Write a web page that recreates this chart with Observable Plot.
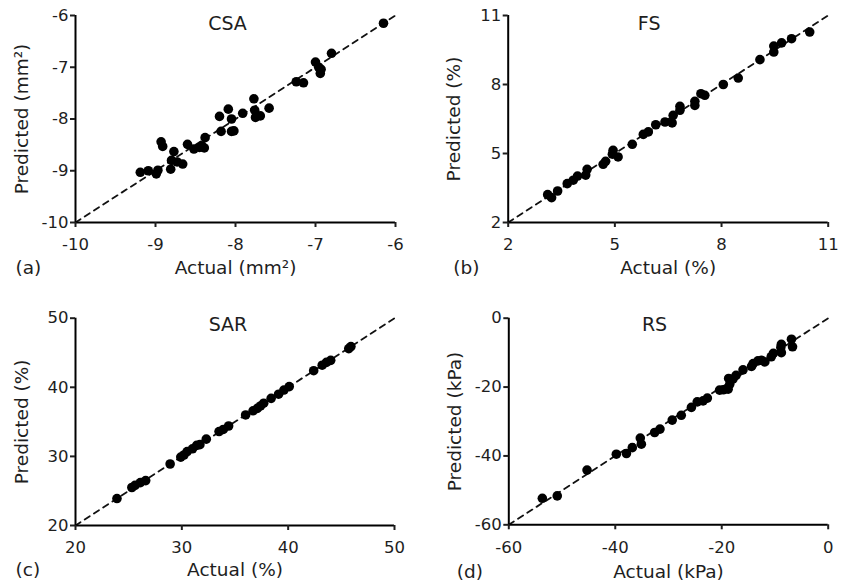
<!DOCTYPE html>
<html>
<head>
<meta charset="utf-8">
<script src="https://cdn.jsdelivr.net/npm/d3@7"></script>
<script src="https://cdn.jsdelivr.net/npm/@observablehq/plot@0.6"></script>
<style>
  html, body { margin: 0; padding: 0; background: #fff; }
  #chart { position: relative; width: 842px; height: 584px; overflow: hidden; }
  .panel { position: absolute; }
</style>
</head>
<body>
<div id="chart"></div>
<script>
// ---- Data ----
const csaActual = [-9.19,-9.09,-8.99,-8.97,-8.93,-8.91,-8.81,-8.80,-8.77,-8.73,-8.66,-8.60,-8.52,-8.45,-8.42,-8.39,-8.38,-8.20,-8.18,-8.09,-8.05,-8.05,-8.02,-7.91,-7.77,-7.76,-7.75,-7.69,-7.58,-7.24,-7.15,-7.00,-6.96,-6.93,-6.94,-6.80,-6.15];
const csaPredicted = [-9.03,-9.00,-9.06,-8.99,-8.44,-8.53,-8.97,-8.80,-8.63,-8.83,-8.87,-8.49,-8.58,-8.55,-8.52,-8.56,-8.36,-7.95,-8.24,-7.81,-8.00,-8.24,-8.23,-7.89,-7.61,-7.83,-7.97,-7.94,-7.79,-7.28,-7.30,-6.90,-7.00,-7.04,-7.12,-6.73,-6.15];

const fsActual = [3.11,3.22,3.39,3.66,3.83,3.95,4.18,4.22,4.67,4.74,4.93,4.95,5.09,5.49,5.80,5.94,6.15,6.41,6.61,6.64,6.83,6.83,7.25,7.25,7.42,7.53,8.05,8.47,9.08,9.47,9.47,9.69,9.97,10.48];
const fsPredicted = [3.21,3.08,3.37,3.69,3.84,4.02,4.06,4.31,4.53,4.66,4.97,5.14,4.85,5.40,5.83,5.94,6.25,6.37,6.33,6.66,6.88,7.05,7.09,7.27,7.60,7.53,8.00,8.28,9.08,9.41,9.67,9.81,9.99,10.28];

const sarActual = [23.9,25.3,25.6,26.1,26.6,28.9,29.9,30.2,30.5,31.0,31.4,31.7,32.3,33.5,33.9,34.4,36.0,36.7,37.1,37.4,37.7,38.4,39.1,39.6,40.1,42.4,43.2,43.6,44.0,45.7,45.9];
const sarPredicted = [23.9,25.5,25.8,26.2,26.5,28.9,29.9,30.2,30.7,31.1,31.6,31.7,32.5,33.6,33.9,34.4,36.0,36.6,36.95,37.3,37.7,38.4,39.0,39.6,40.1,42.4,43.2,43.6,43.9,45.6,45.9];

const rsActual = [-53.7,-50.9,-45.3,-39.8,-37.9,-36.8,-35.3,-35.1,-32.6,-31.6,-29.3,-27.6,-25.7,-24.6,-23.5,-22.7,-20.4,-19.7,-18.8,-18.5,-18.7,-17.9,-17.3,-16.0,-14.4,-14.1,-13.2,-12.5,-11.9,-10.7,-10.3,-8.9,-8.8,-8.8,-6.9,-6.7];
const rsPredicted = [-52.3,-51.6,-44.1,-39.5,-39.3,-37.6,-34.8,-36.6,-33.2,-32.2,-29.6,-28.2,-25.9,-24.3,-24.0,-23.2,-20.9,-20.8,-20.6,-19.2,-17.5,-17.7,-16.6,-15.0,-14.0,-13.2,-12.4,-12.2,-12.7,-11.2,-10.2,-8.5,-10.0,-7.6,-6.1,-8.3];

const csaTicks = [-10,-9,-8,-7,-6];
const fsTicks = [2,5,8,11];
const sarTicks = [20,30,40,50];
const rsTicks = [-60,-40,-20,0];

const titles = ["CSA","FS","SAR","RS"];
const panelLetters = ["(a)","(b)","(c)","(d)"];
const xLabels = ["Actual (mm²)","Actual (%)","Actual (%)","Actual (kPa)"];
const yLabels = ["Predicted (mm²)","Predicted (%)","Predicted (%)","Predicted (kPa)"];

// ---- Layout ----
const panels = [
  {actual: csaActual, predicted: csaPredicted, ticks: csaTicks, left: 0, top: 0,
   m: {l: 75, r: 26, t: 15, b: 70}, titleDx: -8, titleDy: 8, letterDx: -60, labelDy: 46, yLabelDx: -53},
  {actual: fsActual, predicted: fsPredicted, ticks: fsTicks, left: 421, top: 0,
   m: {l: 86.7, r: 14.3, t: 15, b: 70}, titleDx: -19, titleDy: 8, letterDx: -55, labelDy: 46, yLabelDx: -54},
  {actual: sarActual, predicted: sarPredicted, ticks: sarTicks, left: 0, top: 292,
   m: {l: 75, r: 27, t: 25.7, b: 59}, titleDx: -7, titleDy: 7, letterDx: -60, labelDy: 45, yLabelDx: -53},
  {actual: rsActual, predicted: rsPredicted, ticks: rsTicks, left: 421, top: 292,
   m: {l: 87.3, r: 14.3, t: 25.7, b: 59.7}, titleDx: -14, titleDy: 7, letterDx: -52, labelDy: 47, yLabelDx: -54}
];

const fmt = d => String(d);
const chart = document.getElementById("chart");

panels.forEach((p, i) => {
  const data = p.actual.map((a, k) => ({a, p: p.predicted[k]}));
  const dom = [p.ticks[0], p.ticks[p.ticks.length - 1]];
  const diag = dom.map(v => ({a: v, p: v}));
  const svg = Plot.plot({
    width: 421,
    height: 292,
    marginLeft: p.m.l,
    marginRight: p.m.r,
    marginTop: p.m.t,
    marginBottom: p.m.b,
    x: {domain: dom},
    y: {domain: dom},
    style: {fontFamily: "DejaVu Sans, sans-serif", fontSize: "16.5px", color: "#1e1e1e", background: "transparent", overflow: "visible"},
    marks: [
      Plot.line(diag, {x: "a", y: "p", stroke: "#111", strokeWidth: 1.8, strokeDasharray: "6,5"}),
      Plot.dot(data, {x: "a", y: "p", r: 4.8, fill: "#000"}),
      Plot.ruleX([dom[0]], {stroke: "#000", strokeWidth: 2}),
      Plot.ruleY([dom[0]], {stroke: "#000", strokeWidth: 2}),
      Plot.axisX(p.ticks, {tickFormat: fmt, tickSize: 5, tickPadding: 11, strokeWidth: 2, label: null, fill: "#1e1e1e"}),
      Plot.axisY(p.ticks, {tickFormat: fmt, tickSize: 5, tickPadding: 2, strokeWidth: 2, label: null, fill: "#1e1e1e"}),
      Plot.text([titles[i]], {text: d => d, frameAnchor: "top", textAnchor: "middle", dx: p.titleDx, dy: p.titleDy, fontSize: 19, fill: "#1e1e1e", lineAnchor: "middle"}),
      Plot.text([xLabels[i]], {text: d => d, frameAnchor: "bottom", textAnchor: "middle", dy: p.labelDy, fontSize: 18.5, fill: "#1e1e1e", lineAnchor: "middle"}),
      Plot.text([panelLetters[i]], {text: d => d, frameAnchor: "bottom-left", textAnchor: "start", dx: p.letterDx, dy: p.labelDy, fontSize: 18.5, fill: "#1e1e1e", lineAnchor: "middle"}),
      Plot.text([yLabels[i]], {text: d => d, frameAnchor: "left", textAnchor: "middle", rotate: -90, dx: p.yLabelDx, fontSize: 18.5, fill: "#1e1e1e", lineAnchor: "middle"})
    ]
  });
  const div = document.createElement("div");
  div.className = "panel";
  div.style.left = p.left + "px";
  div.style.top = p.top + "px";
  div.appendChild(svg);
  chart.appendChild(div);
});
</script>
</body>
</html>
